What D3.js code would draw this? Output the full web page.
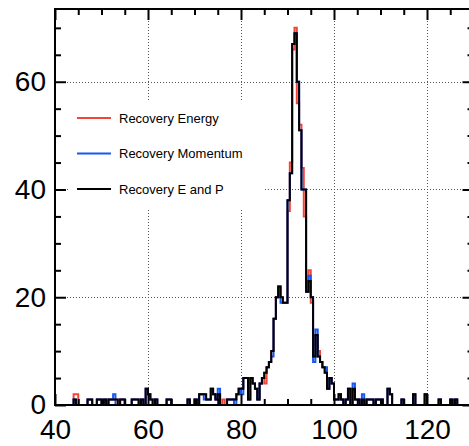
<!DOCTYPE html>
<html>
<head>
<meta charset="utf-8">
<script src="https://cdn.jsdelivr.net/npm/d3@7"></script>
<style>
  body { margin: 0; background: #fff; }
  svg { display: block; font-family: "Liberation Sans", Arial, sans-serif; }
</style>
</head>
<body>
<div id="chart"></div>
<script>

const width = 469
const height = 446

// histogram bins: 0.5 wide, from 40 to 130
const binStart = 40
const binEnd = 130
const binWidth = 0.5

// counts per bin, rows of 10 bins (5 units each)
const countsEnergy = [
  0,0,0,0,0,0,0,0,2,2,     // 40
  0,0,0,0,1,1,0,0,1,1,     // 45
  0,1,0,1,1,1,1,0,1,1,     // 50
  0,0,0,1,1,1,0,1,0,3,     // 55
  2,1,1,1,0,0,0,0,1,1,     // 60
  0,0,0,0,0,0,0,1,0,0,     // 65
  1,0,2,2,2,1,1,3,2,1,     // 70
  2,0,1,0,1,1,1,1,2,3,     // 75
  3,5,5,1,5,4,3,1,4,5,     // 80
  4,7,8,10,16,20,22,20,19,19,   // 85
  36,45,66,70,56,52,44,35,21,25, // 90
  19,9,13,10,8,7,6,3,5,4,  // 95
  1,1,2,1,0,1,3,0,3,1,     // 100
  1,0,1,0,1,1,1,0,1,1,     // 105
  1,0,0,3,2,0,0,0,0,1,     // 110
  0,0,0,0,2,0,0,0,0,2,     // 115
  0,0,0,0,0,1,0,0,0,0,     // 120
  1,0,1,0,0,0,0,0,0,0      // 125
]

const countsMomentum = [
  0,0,0,0,0,0,0,0,1,0,
  0,0,0,0,1,1,0,0,1,1,
  0,1,0,1,1,2,0,0,1,1,
  0,0,0,1,1,1,0,1,0,3,
  2,1,0,1,0,0,0,0,1,1,
  0,0,0,0,0,0,0,1,0,0,
  1,0,2,2,1,1,1,3,2,1,
  3,0,0,0,1,1,1,0,2,3,
  2,5,5,1,5,4,3,1,4,5,
  6,7,8,9,16,20,22,19,19,19,
  38,43,67,69,60,51,40,40,21,24,
  20,8,14,9,8,7,7,3,5,4,
  1,1,2,1,0,1,3,0,4,1,
  1,0,2,0,1,1,1,0,1,1,
  1,0,0,3,2,0,0,0,0,1,
  0,0,0,0,2,0,0,0,0,2,
  0,0,0,0,0,1,0,0,0,0,
  1,0,1,0,0,0,0,0,0,0
]

const countsEandP = [
  0,0,0,0,0,0,0,0,1,0,
  0,0,0,0,1,1,0,0,1,1,
  0,1,0,1,1,1,1,0,1,1,
  0,0,0,1,1,1,0,1,0,3,
  2,1,0,1,0,0,0,0,1,1,
  0,0,0,0,0,0,0,1,0,0,
  1,0,2,2,2,1,1,3,2,1,
  2,0,0,0,1,1,1,1,2,3,
  3,5,5,1,5,4,3,1,4,5,
  6,7,8,10,16,20,22,20,19,19,
  38,43,67,69,60,51,40,40,21,23,
  20,9,13,9,8,7,6,3,5,4,
  1,1,2,1,0,1,3,0,3,1,
  1,0,1,0,1,1,1,0,1,1,
  1,0,0,3,2,0,0,0,0,1,
  0,0,0,0,2,0,0,0,0,2,
  0,0,0,0,0,1,0,0,0,0,
  1,0,1,0,0,0,0,0,0,0
]

const seriesNames = ["Recovery Energy", "Recovery Momentum", "Recovery E and P"]
const seriesColors = ["#f2453a", "#1558f2", "#000000"]

const xMajor = [40, 60, 80, 100, 120]
const xMinor = [45, 50, 55, 65, 70, 75, 85, 90, 95, 105, 110, 115, 125]
const yMajor = [0, 20, 40, 60]
const yMinor = [5, 10, 15, 25, 30, 35, 45, 50, 55, 65, 70]

const plotLeft = 55, plotTop = 9, plotBottom = 405, plotRight = 473.5

const x = d3.scaleLinear().domain([binStart, binEnd]).range([plotLeft, plotRight])
const y = d3.scaleLinear().domain([0, 73.5]).range([plotBottom, plotTop])

const svg = d3.select("#chart")
    .append("svg")
    .attr("width", width)
    .attr("height", height)

// dotted grid
svg.append("g")
    .selectAll("line")
    .data(xMajor.filter(d => d > binStart))
    .enter()
    .append("line")
    .attr("x1", d => Math.round(x(d)) + 0.5)
    .attr("x2", d => Math.round(x(d)) + 0.5)
    .attr("y1", plotTop)
    .attr("y2", plotBottom)
    .attr("stroke", "#555")
    .attr("stroke-width", 1)
    .attr("stroke-dasharray", "1,2")

svg.append("g")
    .selectAll("line")
    .data(yMajor.filter(d => d > 0))
    .enter()
    .append("line")
    .attr("x1", plotLeft)
    .attr("x2", plotRight)
    .attr("y1", d => Math.round(y(d)) + 0.5)
    .attr("y2", d => Math.round(y(d)) + 0.5)
    .attr("stroke", "#555")
    .attr("stroke-width", 1)
    .attr("stroke-dasharray", "1,2")

// legend box hides the grid behind it
svg.append("rect")
    .attr("x", 70)
    .attr("y", 100)
    .attr("width", 195)
    .attr("height", 108)
    .attr("fill", "#fff")

svg.append("clipPath")
    .attr("id", "plotClip")
    .append("rect")
    .attr("x", plotLeft)
    .attr("y", plotTop)
    .attr("width", plotRight - plotLeft)
    .attr("height", plotBottom - plotTop + 2)

const starts = d3.range(binStart, binEnd, binWidth)

const step = d3.line()
    .x(d => x(d[0]))
    .y(d => y(d[1]))
    .curve(d3.curveStepAfter)

function histPoints(counts) {
    const pts = [[binStart, 0]]
    counts.forEach((c, i) => pts.push([starts[i], c]))
    pts.push([binEnd, 0])
    return pts
}

const allCounts = [countsEnergy, countsMomentum, countsEandP]

svg.append("g")
    .attr("clip-path", "url(#plotClip)")
    .selectAll("path")
    .data(allCounts)
    .enter()
    .append("path")
    .attr("d", d => step(histPoints(d)))
    .attr("fill", "none")
    .attr("stroke", (d, i) => seriesColors[i])
    .attr("stroke-width", 2)
    .attr("stroke-linejoin", "miter")

// axes, ticks pointing inwards
function styleAxis(g) {
    g.select(".domain").remove()
    g.selectAll("line").attr("stroke", "#000").attr("stroke-width", 2)
    g.selectAll("text").attr("font-size", 28).attr("fill", "#000")
        .attr("font-family", "'Liberation Sans', Arial, sans-serif")
}

svg.append("g")
    .attr("transform", `translate(0,${plotBottom})`)
    .call(d3.axisBottom(x).tickValues(xMajor).tickSize(-11).tickPadding(14))
    .call(styleAxis)
svg.append("g")
    .attr("transform", `translate(0,${plotBottom})`)
    .call(d3.axisBottom(x).tickValues(xMinor).tickSize(-6).tickFormat(""))
    .call(styleAxis)
svg.append("g")
    .attr("transform", `translate(0,${plotTop})`)
    .call(d3.axisTop(x).tickValues(xMajor).tickSize(-11).tickFormat(""))
    .call(styleAxis)
svg.append("g")
    .attr("transform", `translate(0,${plotTop})`)
    .call(d3.axisTop(x).tickValues(xMinor).tickSize(-6).tickFormat(""))
    .call(styleAxis)

svg.append("g")
    .attr("transform", `translate(${plotLeft},0)`)
    .call(d3.axisLeft(y).tickValues(yMajor).tickSize(-11).tickPadding(9))
    .call(styleAxis)
svg.append("g")
    .attr("transform", `translate(${plotLeft},0)`)
    .call(d3.axisLeft(y).tickValues(yMinor).tickSize(-6).tickFormat(""))
    .call(styleAxis)
svg.append("g")
    .attr("transform", `translate(${plotRight},0)`)
    .call(d3.axisRight(y).tickValues(yMajor).tickSize(-11).tickFormat(""))
    .call(styleAxis)
svg.append("g")
    .attr("transform", `translate(${plotRight},0)`)
    .call(d3.axisRight(y).tickValues(yMinor).tickSize(-6).tickFormat(""))
    .call(styleAxis)

// frame
svg.append("rect")
    .attr("x", plotLeft)
    .attr("y", plotTop)
    .attr("width", plotRight - plotLeft)
    .attr("height", plotBottom - plotTop)
    .attr("fill", "none")
    .attr("stroke", "#000")
    .attr("stroke-width", 2)

// legend
const legend = svg.append("g")
    .selectAll("g")
    .data(seriesNames)
    .enter()
    .append("g")
    .attr("transform", (d, i) => `translate(0,${[118, 153.5, 189][i]})`)

legend.append("line")
    .attr("x1", 77)
    .attr("x2", 111)
    .attr("stroke", (d, i) => seriesColors[i])
    .attr("stroke-width", 2)

legend.append("text")
    .attr("x", 119)
    .attr("dy", "0.35em")
    .attr("font-size", 13)
    .attr("fill", "#000")
    .text(d => d)

</script>
</body>
</html>
